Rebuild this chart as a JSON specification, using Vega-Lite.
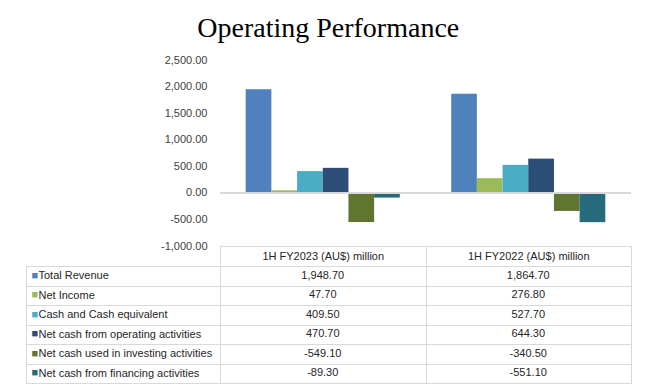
{
  "$schema": "https://vega.github.io/schema/vega-lite/v6.json",
  "padding": {"left": 25, "top": 15, "right": 5, "bottom": 5},
  "background": "white",
  "title": {"text": "Operating Performance", "font": "Liberation Serif", "fontSize": 28, "fontWeight": "normal", "color": "#000000", "anchor": "middle", "offset": 11},
  "config": {
    "view": {"stroke": null},
    "font": "Liberation Sans",
    "locale": {"number": {"decimal": ".", "thousands": ",", "grouping": [3], "currency": ["$", ""], "minus": "-"}},
    "axis": {"labelFont": "Liberation Sans", "labelFontSize": 11, "titleFont": "Liberation Sans", "labelOverlap": false},
    "axisY": {"labelOverlap": false}
  },
  "data": {"values": [
    {"period": "1H FY2023 (AU$) million", "metric": "Total Revenue", "value": 1948.7},
    {"period": "1H FY2023 (AU$) million", "metric": "Net Income", "value": 47.7},
    {"period": "1H FY2023 (AU$) million", "metric": "Cash and Cash equivalent", "value": 409.5},
    {"period": "1H FY2023 (AU$) million", "metric": "Net cash from operating activities", "value": 470.7},
    {"period": "1H FY2023 (AU$) million", "metric": "Net cash used in investing activities", "value": -549.1},
    {"period": "1H FY2023 (AU$) million", "metric": "Net cash from financing activities", "value": -89.3},
    {"period": "1H FY2022 (AU$) million", "metric": "Total Revenue", "value": 1864.7},
    {"period": "1H FY2022 (AU$) million", "metric": "Net Income", "value": 276.8},
    {"period": "1H FY2022 (AU$) million", "metric": "Cash and Cash equivalent", "value": 527.7},
    {"period": "1H FY2022 (AU$) million", "metric": "Net cash from operating activities", "value": 644.3},
    {"period": "1H FY2022 (AU$) million", "metric": "Net cash used in investing activities", "value": -340.5},
    {"period": "1H FY2022 (AU$) million", "metric": "Net cash from financing activities", "value": -551.1}
  ]},
  "spacing": -8,
  "vconcat": [
    {
      "width": 411,
      "height": 186,
      "view": {"stroke": null},
      "layer": [
        {
          "mark": {"type": "bar"},
          "encoding": {
            "x": {"field": "period", "type": "nominal", "sort": ["1H FY2023 (AU$) million", "1H FY2022 (AU$) million"],
                  "scale": {"paddingInner": 0, "paddingOuter": 0},
                  "axis": {"title": null, "labelAngle": 0, "tickBand": "extent", "tickSize": 19, "tickColor": "#d9d9d9", "domainColor": "#d9d9d9", "labelPadding": -14.5, "labelColor": "#262626", "labelFontSize": 11}},
            "xOffset": {"field": "metric", "type": "nominal",
                  "sort": ["Total Revenue", "Net Income", "Cash and Cash equivalent", "Net cash from operating activities", "Net cash used in investing activities", "Net cash from financing activities"],
                  "scale": {"paddingInner": 0, "paddingOuter": 1}},
            "y": {"field": "value", "type": "quantitative",
                  "scale": {"domain": [-1000, 2500], "nice": false, "zero": false},
                  "axis": {"title": null, "values": [-1000, -500, 0, 500, 1000, 1500, 2000, 2500], "format": ",.2f", "labelOverlap": false, "domain": false, "ticks": false, "grid": false, "labelPadding": 13, "labelColor": "#404040"}},
            "color": {"field": "metric", "type": "nominal", "legend": null,
                  "scale": {"domain": ["Total Revenue", "Net Income", "Cash and Cash equivalent", "Net cash from operating activities", "Net cash used in investing activities", "Net cash from financing activities"],
                            "range": ["#4F81BD", "#9BBB59", "#4BACC6", "#2C4D75", "#5F7530", "#276A7C"]}}
          }
        },
        {
          "mark": {"type": "rule", "color": "#d9d9d9", "strokeWidth": 1},
          "encoding": {"y": {"datum": 0, "type": "quantitative",
                  "axis": {"title": null, "values": [-1000, -500, 0, 500, 1000, 1500, 2000, 2500], "format": ",.2f", "labelOverlap": false, "domain": false, "ticks": false, "grid": false, "labelPadding": 13, "labelColor": "#404040"}}}
        }
      ]
    },
    {
      "width": 411,
      "height": 117,
      "view": {"stroke": "#d9d9d9"},
      "resolve": {"axis": {"y": "independent"}},
      "layer": [
        {
          "mark": {"type": "text", "fontSize": 11, "font": "Liberation Sans", "color": "#262626"},
          "encoding": {
            "x": {"field": "period", "type": "nominal", "sort": ["1H FY2023 (AU$) million", "1H FY2022 (AU$) million"],
                  "scale": {"paddingInner": 0, "paddingOuter": 0},
                  "axis": {"title": null, "labels": false, "ticks": false, "domain": false, "grid": true, "tickBand": "extent", "gridColor": "#d9d9d9"}},
            "y": {"field": "metric", "type": "nominal",
                  "sort": ["Total Revenue", "Net Income", "Cash and Cash equivalent", "Net cash from operating activities", "Net cash used in investing activities", "Net cash from financing activities"],
                  "scale": {"paddingInner": 0, "paddingOuter": 0},
                  "axis": {"title": null, "orient": "left", "tickBand": "extent", "tickSize": 194, "tickColor": "#d9d9d9", "domain": false, "grid": true, "gridColor": "#d9d9d9", "labelAlign": "left", "labelPadding": -12, "labelColor": "#262626", "labelFontSize": 11}},
            "text": {"field": "value", "type": "quantitative", "format": ",.2f"}
          }
        },
        {
          "mark": {"type": "point", "opacity": 0},
          "encoding": {
            "y": {"field": "metric", "type": "nominal",
                  "sort": ["Total Revenue", "Net Income", "Cash and Cash equivalent", "Net cash from operating activities", "Net cash used in investing activities", "Net cash from financing activities"],
                  "axis": {"title": null, "orient": "left", "offset": 194, "domain": true, "domainColor": "#d9d9d9", "ticks": false, "tickSize": 0, "grid": false,
                           "labelExpr": "'■'", "labelAlign": "left", "labelPadding": -5, "labelFontSize": 11,
                           "labelColor": {"condition": [
                             {"test": "datum.value === 'Total Revenue'", "value": "#4F81BD"},
                             {"test": "datum.value === 'Net Income'", "value": "#9BBB59"},
                             {"test": "datum.value === 'Cash and Cash equivalent'", "value": "#4BACC6"},
                             {"test": "datum.value === 'Net cash from operating activities'", "value": "#2C4D75"},
                             {"test": "datum.value === 'Net cash used in investing activities'", "value": "#5F7530"}
                           ], "value": "#276A7C"}}}
          }
        }
      ]
    }
  ]
}
